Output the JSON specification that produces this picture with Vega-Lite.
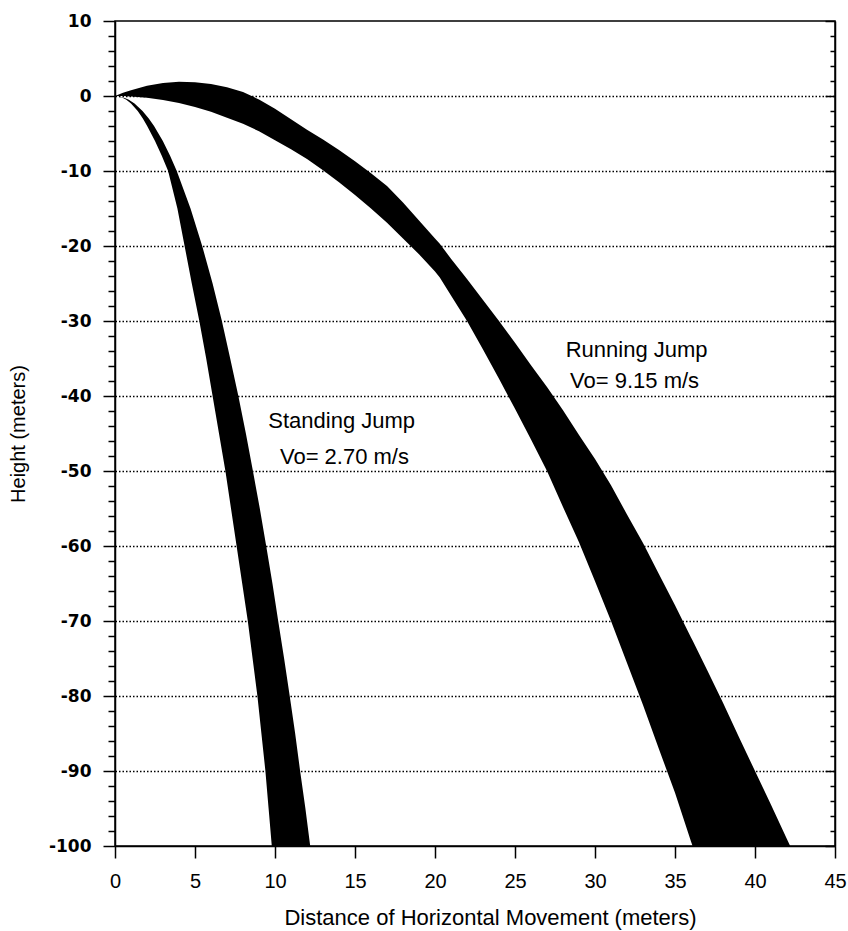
{
  "$schema": "https://vega.github.io/schema/vega-lite/v6.json",
  "width": 720,
  "height": 825,
  "autosize": "none",
  "padding": {"left": 115, "top": 21, "right": 13, "bottom": 85},
  "background": "white",
  "config": {
    "view": {"stroke": "black", "strokeWidth": 1.5},
    "axis": {"domainColor": "black", "domainWidth": 1.5, "tickColor": "black", "tickWidth": 1.5, "labelColor": "black", "titleColor": "black"}
  },
  "datasets": {
    "running": [
      {"x": 0, "upper": 0, "lower": 0},
      {"x": 0.5, "upper": 0.42, "lower": -0.015},
      {"x": 1, "upper": 0.78, "lower": -0.06},
      {"x": 2, "upper": 1.36, "lower": -0.23},
      {"x": 3, "upper": 1.73, "lower": -0.53},
      {"x": 4, "upper": 1.89, "lower": -0.94},
      {"x": 5, "upper": 1.85, "lower": -1.46},
      {"x": 6, "upper": 1.61, "lower": -2.1},
      {"x": 7, "upper": 1.17, "lower": -2.9},
      {"x": 8, "upper": 0.54, "lower": -3.7},
      {"x": 9, "upper": -0.47, "lower": -4.7},
      {"x": 10, "upper": -1.7, "lower": -5.9},
      {"x": 11, "upper": -3.1, "lower": -7.1},
      {"x": 12, "upper": -4.5, "lower": -8.4},
      {"x": 13, "upper": -5.8, "lower": -9.9},
      {"x": 14, "upper": -7.2, "lower": -11.5},
      {"x": 15, "upper": -8.7, "lower": -13.2},
      {"x": 16, "upper": -10.3, "lower": -15.0},
      {"x": 17, "upper": -12.0, "lower": -16.9},
      {"x": 18, "upper": -14.2, "lower": -19.0},
      {"x": 19, "upper": -16.6, "lower": -21.1},
      {"x": 20, "upper": -19.0, "lower": -23.4},
      {"x": 20.3, "upper": -19.7, "lower": -24.2},
      {"x": 21, "upper": -21.7, "lower": -26.6},
      {"x": 22, "upper": -24.4, "lower": -30.0},
      {"x": 23, "upper": -27.2, "lower": -33.8},
      {"x": 24, "upper": -30.0, "lower": -37.7},
      {"x": 25, "upper": -32.9, "lower": -41.7},
      {"x": 26, "upper": -35.9, "lower": -45.8},
      {"x": 27, "upper": -38.8, "lower": -50.0},
      {"x": 28, "upper": -41.9, "lower": -54.8},
      {"x": 29, "upper": -45.2, "lower": -59.5},
      {"x": 30, "upper": -48.4, "lower": -64.7},
      {"x": 31, "upper": -51.9, "lower": -70.0},
      {"x": 32, "upper": -55.8, "lower": -75.6},
      {"x": 33, "upper": -59.6, "lower": -81.2},
      {"x": 34, "upper": -63.75, "lower": -87.1},
      {"x": 35, "upper": -67.9, "lower": -92.9},
      {"x": 36, "upper": -72.2, "lower": -99.4},
      {"x": 36.1, "upper": -72.6, "lower": -100},
      {"x": 37, "upper": -76.5, "lower": -100},
      {"x": 38, "upper": -80.9, "lower": -100},
      {"x": 39, "upper": -85.5, "lower": -100},
      {"x": 40, "upper": -90.0, "lower": -100},
      {"x": 41, "upper": -94.5, "lower": -100},
      {"x": 42, "upper": -99.1, "lower": -100},
      {"x": 42.2, "upper": -100, "lower": -100}
    ],
    "standing": [
      {"y": 0, "left": 0, "right": 0},
      {"y": -0.25, "left": 0.5, "right": 0.61},
      {"y": -0.5, "left": 0.71, "right": 0.86},
      {"y": -1, "left": 1.0, "right": 1.22},
      {"y": -2, "left": 1.42, "right": 1.72},
      {"y": -3, "left": 1.74, "right": 2.11},
      {"y": -4, "left": 2.01, "right": 2.44},
      {"y": -6, "left": 2.5, "right": 2.99},
      {"y": -8, "left": 2.93, "right": 3.45},
      {"y": -10, "left": 3.32, "right": 3.86},
      {"y": -15, "left": 3.9, "right": 4.72},
      {"y": -20, "left": 4.35, "right": 5.45},
      {"y": -25, "left": 4.8, "right": 6.1},
      {"y": -30, "left": 5.27, "right": 6.68},
      {"y": -35, "left": 5.7, "right": 7.2},
      {"y": -40, "left": 6.1, "right": 7.71},
      {"y": -45, "left": 6.5, "right": 8.18},
      {"y": -50, "left": 6.9, "right": 8.62},
      {"y": -55, "left": 7.25, "right": 9.05},
      {"y": -60, "left": 7.6, "right": 9.45},
      {"y": -65, "left": 7.95, "right": 9.84},
      {"y": -70, "left": 8.3, "right": 10.2},
      {"y": -75, "left": 8.6, "right": 10.57},
      {"y": -80, "left": 8.9, "right": 10.92},
      {"y": -85, "left": 9.15, "right": 11.26},
      {"y": -90, "left": 9.4, "right": 11.57},
      {"y": -95, "left": 9.6, "right": 11.9},
      {"y": -100, "left": 9.8, "right": 12.2}
    ],
    "labels": [
      {"tx": 9.58, "ty": -44.3, "label": "Standing Jump"},
      {"tx": 10.31, "ty": -49.0, "label": "Vo= 2.70 m/s"},
      {"tx": 28.17, "ty": -34.76, "label": "Running Jump"},
      {"tx": 28.44, "ty": -38.97, "label": "Vo= 9.15 m/s"}
    ]
  },
  "layer": [
    {
      "data": {"name": "running"},
      "mark": {"type": "area", "color": "black", "orient": "vertical", "opacity": 1},
      "encoding": {
        "x": {
          "field": "x", "type": "quantitative",
          "scale": {"domain": [0, 45], "nice": false, "zero": false},
          "axis": {
            "orient": "bottom",
            "values": [0, 5, 10, 15, 20, 25, 30, 35, 40, 45],
            "tickSize": 12, "grid": false,
            "labelFont": "Liberation Sans", "labelFontSize": 20, "labelBaseline": "alphabetic", "labelPadding": 29.5, "labelFlush": false,
            "title": "Distance of Horizontal Movement (meters)",
            "titleFont": "Liberation Sans", "titleFontSize": 22, "titleFontWeight": "normal",
            "titleX": 375, "titleY": 78.5, "titleAlign": "center", "titleBaseline": "alphabetic"
          }
        },
        "y": {
          "field": "upper", "type": "quantitative",
          "scale": {"domain": [-100, 10], "nice": false, "zero": false},
          "axis": {
            "orient": "left",
            "values": [-100, -98, -96, -94, -92, -90, -88, -86, -84, -82, -80, -78, -76, -74, -72, -70, -68, -66, -64, -62, -60, -58, -56, -54, -52, -50, -48, -46, -44, -42, -40, -38, -36, -34, -32, -30, -28, -26, -24, -22, -20, -18, -16, -14, -12, -10, -8, -6, -4, -2, 0, 2, 4, 6, 8, 10],
            "labelExpr": "datum.value % 10 === 0 ? '' + datum.value : ''",
            "labelOverlap": false, "labelFlush": false,
            "tickSize": {"condition": {"test": "datum.value % 10 === 0", "value": 12}, "value": 7},
            "grid": true, "gridColor": "black", "gridWidth": 1.3, "gridDash": [1.5, 2],
            "gridOpacity": {"condition": {"test": "datum.value % 10 === 0 && datum.value < 5 && datum.value > -95", "value": 1}, "value": 0},
            "labelFont": "DejaVu Sans", "labelFontWeight": "bold", "labelFontSize": 17, "labelPadding": 12,
            "title": "Height (meters)",
            "titleFont": "Liberation Sans", "titleFontSize": 20, "titleFontWeight": "normal",
            "titleAngle": -90, "titleX": -91, "titleY": 412.5, "titleAlign": "center", "titleBaseline": "alphabetic"
          }
        },
        "y2": {"field": "lower"}
      }
    },
    {
      "data": {"name": "standing"},
      "mark": {"type": "area", "color": "black", "orient": "horizontal", "opacity": 1},
      "encoding": {
        "y": {
          "field": "y", "type": "quantitative",
          "axis": {
            "orient": "right",
            "values": [-100, -98, -96, -94, -92, -90, -88, -86, -84, -82, -80, -78, -76, -74, -72, -70, -68, -66, -64, -62, -60, -58, -56, -54, -52, -50, -48, -46, -44, -42, -40, -38, -36, -34, -32, -30, -28, -26, -24, -22, -20, -18, -16, -14, -12, -10, -8, -6, -4, -2, 0, 2, 4, 6, 8, 10],
            "labels": false, "grid": false, "title": null,
            "tickSize": {"condition": {"test": "datum.value % 10 === 0", "value": -10}, "value": -5}
          }
        },
        "x": {"field": "left", "type": "quantitative", "title": "Distance of Horizontal Movement (meters)"},
        "x2": {"field": "right"}
      }
    },
    {
      "data": {"name": "labels"},
      "mark": {"type": "text", "align": "left", "baseline": "alphabetic", "font": "Liberation Sans", "fontSize": 22, "color": "black"},
      "encoding": {
        "x": {"field": "tx", "type": "quantitative", "title": "Distance of Horizontal Movement (meters)"},
        "y": {"field": "ty", "type": "quantitative", "axis": null},
        "text": {"field": "label"}
      }
    }
  ],
  "resolve": {"scale": {"y": "shared", "x": "shared"}, "axis": {"y": "independent"}}
}
